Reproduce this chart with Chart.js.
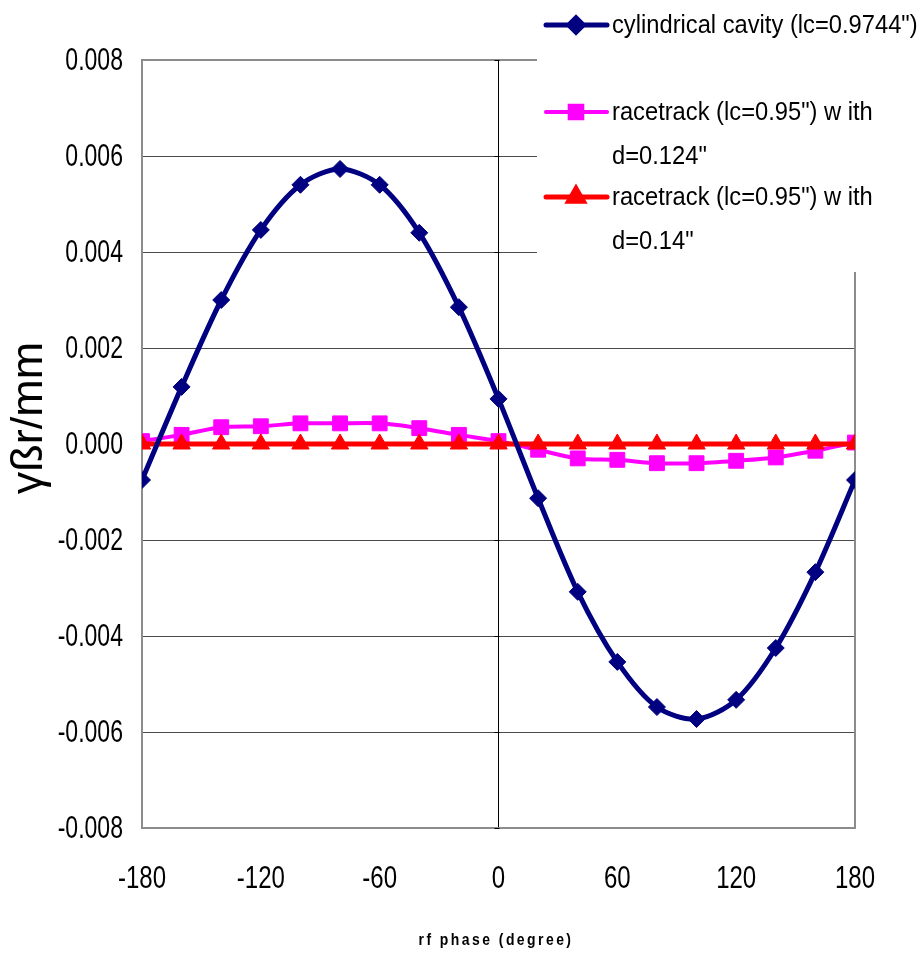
<!DOCTYPE html>
<html>
<head>
<meta charset="utf-8">
<script src="https://cdn.jsdelivr.net/npm/chart.js@4"></script>
<style>
  html, body { margin: 0; padding: 0; background: #fff; }
  #wrap { width: 920px; height: 956px; position: relative; }
</style>
</head>
<body>
<div id="wrap"><canvas id="phase-chart" width="920" height="956"></canvas></div>
<script>
// rf phase in degrees
const phase = [-180, -160, -140, -120, -100, -80, -60, -40, -20, 0, 20, 40, 60, 80, 100, 120, 140, 160, 180];

const cylindrical = [-0.00075, 0.00119, 0.00300, 0.00446, 0.00540, 0.00573, 0.00540, 0.00440, 0.00285, 0.00094,
    -0.00113, -0.00308, -0.00454, -0.00548, -0.00573, -0.00533, -0.00425, -0.00267, -0.00075];
const racetrack124 = [0.00006, 0.00019, 0.00035, 0.00037, 0.00043, 0.00043, 0.00043, 0.00033, 0.00019, 0.00006,
    -0.00012, -0.00030, -0.00033, -0.00040, -0.00040, -0.00035, -0.00028, -0.00014, 0.00003];
const racetrack14 = [0, 0, 0, 0, 0, 0, 0, 0, 0, 0, 0, 0, 0, 0, 0, 0, 0, 0, 0];

const seriesNames = [
    ['cylindrical cavity (lc=0.9744")'],
    ['racetrack (lc=0.95") w ith', 'd=0.124"'],
    ['racetrack (lc=0.95") w ith', 'd=0.14"']
];

// no narrow font installed, so squeeze Liberation Sans horizontally
const SANS = '"Liberation Sans", Arial, sans-serif';

function pts(values) {
    return values.map((v, i) => ({ x: phase[i], y: v }));
}

function narrowText(ctx, txt, x, y, sx, align) {
    ctx.save();
    ctx.translate(x, y);
    ctx.scale(sx, 1);
    ctx.textAlign = align;
    ctx.fillText(txt, 0, 0);
    ctx.restore();
}

const styles = [
    { color: '#000080', pointStyle: 'rectRot', radius: 8.5, width: 5 },
    { color: '#FF00FF', pointStyle: 'rect', radius: 10.5, width: 4 },
    { color: '#FF0000', pointStyle: 'triangle', radius: 10, width: 5 }
];

// frame, zero axis ticks, tick labels, legend box and axis titles
const decorations = {
    id: 'decorations',
    beforeDatasetsDraw(chart) {
        const { ctx, chartArea: a, scales } = chart;
        ctx.save();
        ctx.strokeStyle = '#8c8c8c';
        ctx.lineWidth = 2;
        ctx.strokeRect(a.left, a.top, a.right - a.left, a.bottom - a.top);
        // small tick marks on the y axis at x = 0
        const x0 = Math.round(scales.x.getPixelForValue(0)) + 0.5;
        ctx.strokeStyle = '#000';
        ctx.lineWidth = 1;
        scales.y.ticks.forEach(t => {
            const y = Math.round(scales.y.getPixelForValue(t.value)) + 0.5;
            ctx.beginPath();
            ctx.moveTo(x0 - 5, y);
            ctx.lineTo(x0, y);
            ctx.stroke();
        });
        ctx.restore();
    },
    afterDraw(chart) {
        const { ctx, chartArea: a, scales } = chart;
        ctx.save();
        ctx.fillStyle = '#000';
        ctx.textBaseline = 'middle';
        ctx.font = '32px ' + SANS;
        scales.y.ticks.forEach(t => {
            narrowText(ctx, t.value.toFixed(3), a.left - 19, scales.y.getPixelForValue(t.value) + 1, 0.72, 'right');
        });
        scales.x.ticks.forEach(t => {
            narrowText(ctx, String(t.value), scales.x.getPixelForValue(t.value), a.bottom + 51, 0.75, 'center');
        });

        // legend sits on top of the plot corner
        ctx.fillStyle = '#fff';
        ctx.fillRect(537, 0, 383, 272);

        const rows = [25, 112, 197];
        ctx.font = '25.5px ' + SANS;
        ctx.textBaseline = 'alphabetic';
        seriesNames.forEach((lines, i) => {
            const s = styles[i];
            const y = rows[i];
            ctx.strokeStyle = s.color;
            ctx.lineWidth = s.width;
            ctx.lineCap = 'round';
            ctx.beginPath();
            ctx.moveTo(546, y);
            ctx.lineTo(607, y);
            ctx.stroke();
            ctx.fillStyle = s.color;
            if (Chart.helpers && Chart.helpers.drawPoint) {
                Chart.helpers.drawPoint(ctx, {
                    pointStyle: s.pointStyle, radius: s.radius * 0.85, rotation: 0, borderWidth: 1
                }, 576, y);
            }
            ctx.fillStyle = '#000';
            lines.forEach((txt, j) => narrowText(ctx, txt, 612, y + 8 + j * 44, 0.93, 'left'));
        });

        // y axis title
        ctx.save();
        ctx.translate(30, 418);
        ctx.rotate(-Math.PI / 2);
        ctx.font = '45px ' + SANS;
        ctx.textAlign = 'center';
        ctx.textBaseline = 'middle';
        ctx.fillStyle = '#000';
        ctx.fillText('γßr/mm', 0, 0);
        ctx.restore();

        // x axis title
        ctx.font = 'bold 17px ' + SANS;
        ctx.letterSpacing = '3px';
        ctx.textBaseline = 'middle';
        ctx.fillStyle = '#000';
        narrowText(ctx, 'rf phase (degree)', 496, 940, 0.82, 'center');
        ctx.restore();
    }
};

const ctx = document.getElementById('phase-chart').getContext('2d');

new Chart(ctx, {
    type: 'line',
    data: {
        datasets: [{
            label: seriesNames[0].join(' '),
            data: pts(cylindrical),
            order: 0
        }, {
            label: seriesNames[1].join(' '),
            data: pts(racetrack124),
            order: 2
        }, {
            label: seriesNames[2].join(' '),
            data: pts(racetrack14),
            order: 1
        }].map((d, i) => Object.assign(d, {
            borderColor: styles[i].color,
            backgroundColor: styles[i].color,
            borderWidth: styles[i].width,
            pointStyle: styles[i].pointStyle,
            pointRadius: styles[i].radius,
            pointBorderWidth: 1,
            tension: 0.3,
            fill: false
        }))
    },
    options: {
        responsive: false,
        animation: false,
        layout: { padding: { top: 60, right: 65, left: 0, bottom: 0 } },
        plugins: {
            legend: { display: false },
            tooltip: { enabled: false }
        },
        scales: {
            x: {
                type: 'linear',
                min: -180,
                max: 180,
                afterFit: scale => { scale.height = 128; },
                ticks: { stepSize: 60, display: false },
                grid: {
                    drawTicks: false,
                    lineWidth: 1,
                    color: c => (c.tick && c.tick.value === 0) ? '#000' : 'rgba(0,0,0,0)'
                },
                border: { display: false }
            },
            y: {
                min: -0.008,
                max: 0.008,
                afterFit: scale => { scale.width = 142; },
                ticks: { stepSize: 0.002, display: false },
                grid: {
                    drawTicks: false,
                    color: '#4a4a4a',
                    lineWidth: 1
                },
                border: { display: false }
            }
        }
    },
    plugins: [decorations]
});
</script>
</body>
</html>
